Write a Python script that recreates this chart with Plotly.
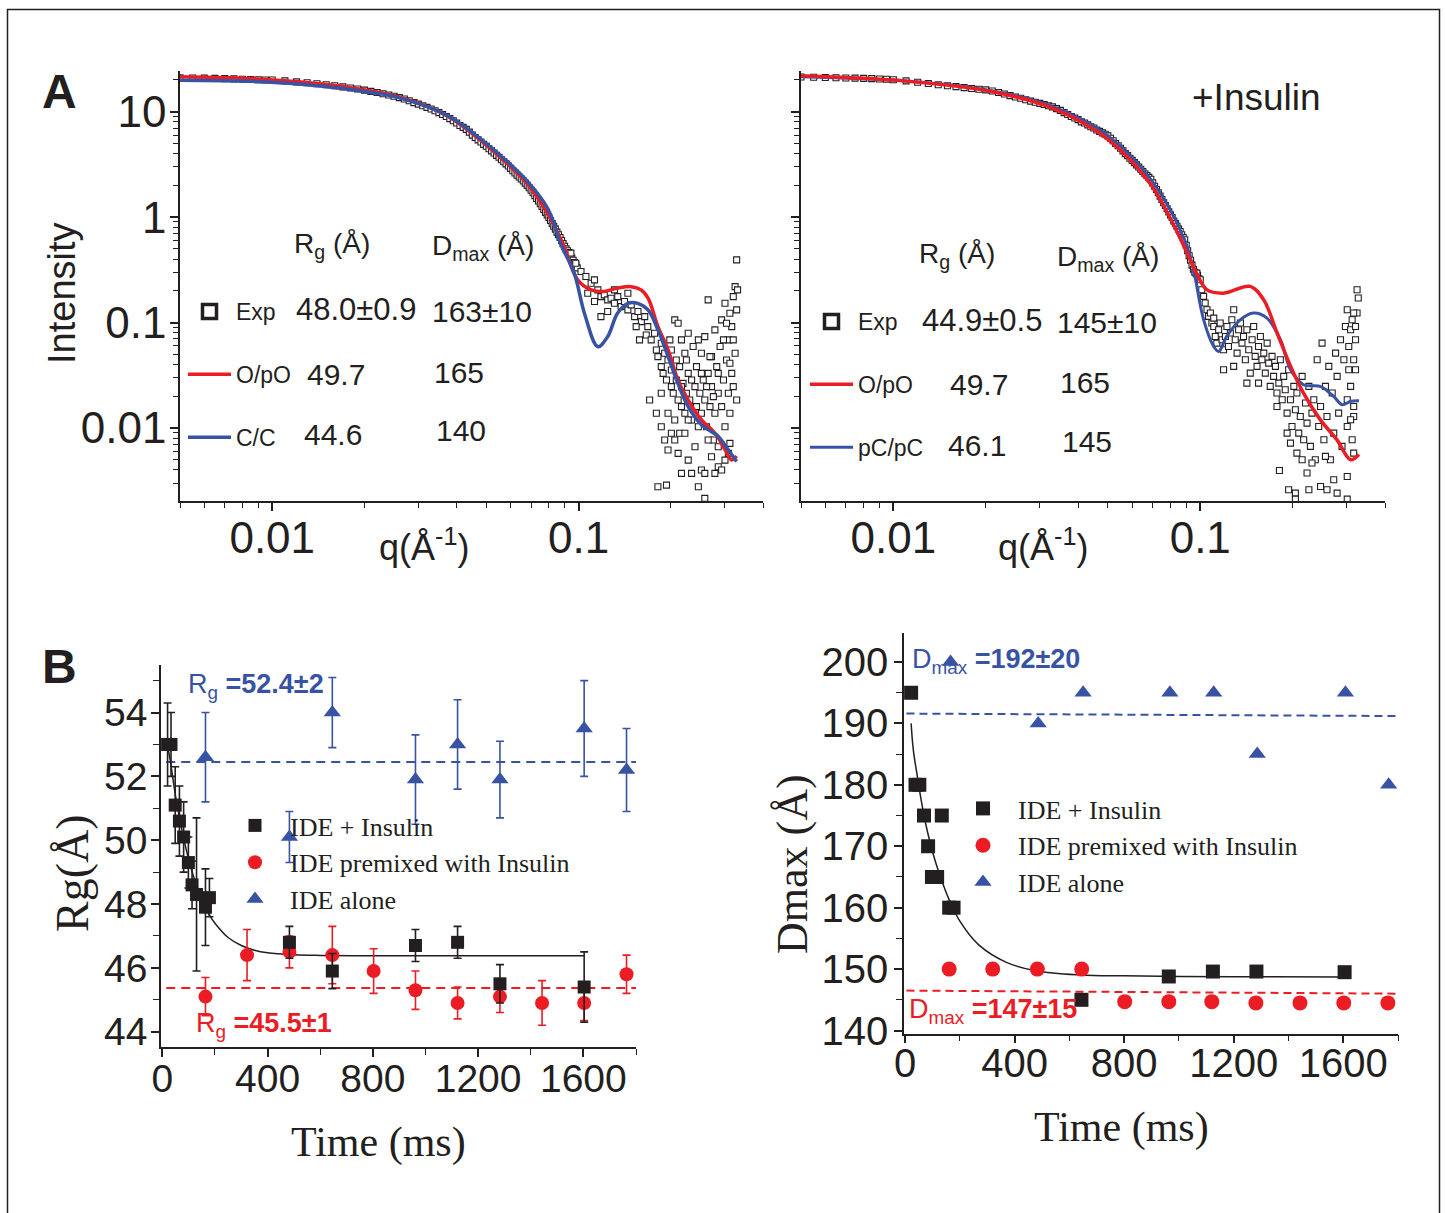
import numpy as np
import plotly.graph_objects as go

W, H = 1445, 1213
INK = "#231f20"
RED = "#ec1c24"
BLUE = "#3953a4"
SANS = "Liberation Sans, Arial, Helvetica, sans-serif"
SERIF = "Liberation Serif, Times New Roman, serif"


def fx(p):
    return p / W


def fy(p):
    return 1 - p / H


# ================= Panel A (left): IDE + insulin SAXS =================
qL_red = [0.005, 0.008, 0.0122, 0.018, 0.0258, 0.0375, 0.0546, 0.0684, 0.0794, 0.089, 0.0993,
          0.110, 0.121, 0.134, 0.1486, 0.160, 0.1686, 0.1816, 0.196, 0.211, 0.228, 0.252,
          0.279, 0.301, 0.316, 0.328]
IL_red = [21.5, 20.8, 19.2, 16.9, 13.9, 9.0, 3.85, 2.03, 1.06, 0.556, 0.254,
          0.204, 0.197, 0.212, 0.219, 0.204, 0.170, 0.0916, 0.055, 0.0285, 0.0184, 0.0119,
          0.0089, 0.0062, 0.00497, 0.00542]
qL_blue = [0.005, 0.008, 0.0122, 0.018, 0.0258, 0.0375, 0.0546, 0.0684, 0.0794, 0.0876, 0.0968,
           0.1045, 0.1156, 0.1245, 0.134, 0.145, 0.156, 0.1686, 0.1816, 0.196, 0.211, 0.228,
           0.252, 0.272, 0.286, 0.308, 0.328]
IL_blue = [19.9, 19.5, 18.3, 16.2, 13.6, 9.1, 4.0, 2.15, 1.2, 0.55, 0.294,
           0.1225, 0.059, 0.0736, 0.1225, 0.152, 0.152, 0.132, 0.0851, 0.0475, 0.0265, 0.0159,
           0.0107, 0.0092, 0.0083, 0.0062, 0.0048]

q_band = [0.0050, 0.0055, 0.0060, 0.0065, 0.0070, 0.0075, 0.0080, 0.0085, 0.0090, 0.0095,
          0.0100, 0.0110, 0.0120, 0.0130, 0.0140, 0.0150, 0.0160, 0.0170, 0.0180, 0.0190,
          0.0200, 0.0210, 0.0220, 0.0230, 0.0240, 0.0250, 0.0260, 0.0270, 0.0280, 0.0290,
          0.0300, 0.0310, 0.0320, 0.0330, 0.0340, 0.0350, 0.0360, 0.0370, 0.0380, 0.0390,
          0.0400, 0.0410, 0.0420, 0.0430, 0.0440, 0.0450, 0.0460, 0.0470, 0.0480, 0.0490,
          0.0500, 0.0510, 0.0520, 0.0530, 0.0540, 0.0550, 0.0560, 0.0570, 0.0580, 0.0590,
          0.0600, 0.0610, 0.0620, 0.0630, 0.0640, 0.0650, 0.0660, 0.0670, 0.0680, 0.0690,
          0.0700, 0.0710, 0.0720, 0.0730, 0.0740, 0.0750, 0.0760, 0.0770, 0.0780, 0.0790,
          0.0800, 0.0810, 0.0820, 0.0830, 0.0840, 0.0850, 0.0860, 0.0870, 0.0880, 0.0890,
          0.0900, 0.0910, 0.0920, 0.0930, 0.0940, 0.0950, 0.0960, 0.0970, 0.0980, 0.0990]
expL_I_band = [21.0, 20.9, 20.8, 20.7, 20.6, 20.5, 20.3, 20.2, 20.1, 20.0,
               20.0, 19.6, 19.2, 18.8, 18.4, 18.0, 17.6, 17.2, 16.8, 16.4,
               16.0, 15.6, 15.2, 14.8, 14.4, 14.0, 13.6, 13.2, 12.7, 12.2,
               11.8, 11.4, 11.0, 10.6, 10.2, 9.8, 9.4, 9.0, 8.6, 8.2,
               7.8, 7.4, 7.1, 6.8, 6.4, 6.0, 5.7, 5.4, 5.15, 4.9,
               4.7, 4.45, 4.25, 4.05, 3.85, 3.7, 3.5, 3.35, 3.2, 3.05,
               2.9, 2.75, 2.62, 2.5, 2.4, 2.3, 2.2, 2.1, 2.0, 1.9,
               1.8, 1.7, 1.6, 1.5, 1.42, 1.34, 1.26, 1.18, 1.11, 1.05,
               0.99, 0.93, 0.87, 0.82, 0.77, 0.72, 0.68, 0.64, 0.60, 0.56,
               0.53, 0.50, 0.48, 0.46, 0.44, 0.41, 0.39, 0.37, 0.35, 0.33]
# high-q noisy tail, read as log10 values off the log-log plot
expL_log10q_tail = [-1.025, -1.009, -0.992, -0.976, -0.959, -0.948, -0.937, -0.927, -0.916, -0.905,
                    -0.894, -0.883, -0.872, -0.861, -0.850, -0.839, -0.828, -0.817, -0.806, -0.795,
                    -0.784, -0.927, -0.905, -0.948, -0.970, -0.883, -0.839, -0.812, -0.779, -0.801,
                    -0.774, -0.763, -0.752, -0.746, -0.741, -0.730, -0.730, -0.724, -0.719, -0.713,
                    -0.708, -0.702, -0.697, -0.697, -0.691, -0.686, -0.681, -0.675, -0.675, -0.670,
                    -0.664, -0.659, -0.653, -0.653, -0.648, -0.642, -0.642, -0.637, -0.631, -0.626,
                    -0.620, -0.620, -0.615, -0.609, -0.609, -0.604, -0.599, -0.599, -0.593, -0.588,
                    -0.588, -0.582, -0.577, -0.577, -0.571, -0.566, -0.566, -0.560, -0.555, -0.555,
                    -0.549, -0.544, -0.544, -0.538, -0.533, -0.533, -0.527, -0.522, -0.522, -0.517,
                    -0.511, -0.511, -0.506, -0.506, -0.500, -0.500, -0.495, -0.495, -0.489, -0.489,
                    -0.484, -0.484, -0.484, -0.481,
                    -0.768, -0.746, -0.730, -0.719, -0.708, -0.697, -0.686, -0.675, -0.670, -0.664,
                    -0.653, -0.642, -0.631, -0.620, -0.609, -0.599, -0.588, -0.577, -0.566, -0.555,
                    -0.544, -0.533, -0.522, -0.511, -0.506, -0.741, -0.713, -0.588,
                    -0.697, -0.681, -0.664, -0.648, -0.631, -0.615, -0.599, -0.582, -0.571, -0.560,
                    -0.544, -0.527, -0.517, -0.506, -0.495, -0.730, -0.708, -0.686, -0.664, -0.642]
expL_log10I_tail = [-0.342, -0.437, -0.516, -0.564, -0.627, -0.595, -0.690, -0.754, -0.738, -0.785,
                    -0.769, -0.817, -0.754, -0.849, -0.801, -0.880, -0.833, -0.944, -0.896, -0.991,
                    -0.944, -0.944, -0.896, -0.801, -0.722, -0.690, -0.722, -1.039, -1.118, -1.165,
                    -1.039, -1.165, -1.102, -1.260, -1.323, -1.197, -1.418, -1.482, -1.292, -1.545,
                    -1.355, -1.165, -1.450, -1.608, -1.671, -0.975, -1.545, -1.735, -1.007, -1.418,
                    -1.798, -1.577, -1.292, -1.861, -1.671, -1.102, -1.482, -1.735, -1.925, -1.228,
                    -1.608, -1.798, -1.418, -1.165, -1.988, -1.671, -1.292, -1.861, -1.545, -1.134,
                    -1.735, -1.988, -1.482, -0.785, -1.798, -1.323, -1.608, -2.115, -1.070, -1.861,
                    -1.418, -1.671, -2.178, -1.228, -0.975, -1.798, -1.545, -0.817, -1.988, -1.355,
                    -1.165, -1.671, -0.912, -1.861, -1.039, -1.482, -0.754, -1.608, -0.659, -1.292,
                    -0.406, -0.880, -1.735, -0.690,
                    -1.735, -1.861, -1.988, -2.115, -2.209, -2.051, -2.115, -2.241, -2.051, -2.431,
                    -2.051, -2.305, -2.431, -2.178, -2.558, -2.399, -2.431, -2.115, -2.273, -2.431,
                    -2.368, -2.399, -2.305, -2.241, -2.146, -2.558, -2.542, -2.668,
                    -1.260, -1.355, -1.165, -1.355, -1.545, -1.798, -1.482, -1.608, -1.323, -1.703,
                    -1.482, -1.165, -1.007, -1.387, -1.165, -1.671, -1.861, -1.925, -1.608, -1.925]

# ================= Panel A (right): +Insulin =================
qR_red = [0.005, 0.011, 0.0207, 0.0333, 0.0502, 0.0689, 0.0832, 0.0927, 0.0975, 0.105, 0.119,
          0.1455, 0.161, 0.178, 0.197, 0.217, 0.246, 0.279, 0.309, 0.329]
IR_red = [21.9, 19.5, 15.6, 10.7, 5.43, 2.05, 0.769, 0.394, 0.289, 0.205, 0.19,
          0.22, 0.164, 0.0795, 0.0384, 0.0214, 0.012, 0.0077, 0.0050, 0.0056]
qR_blue = [0.005, 0.011, 0.0207, 0.0333, 0.0502, 0.0689, 0.0888, 0.095, 0.1026, 0.1106, 0.1148,
           0.122, 0.135, 0.149, 0.165, 0.1825, 0.197, 0.217, 0.246, 0.272, 0.290, 0.309, 0.329]
IR_blue = [21.5, 19.6, 15.9, 11.1, 5.87, 2.29, 0.614, 0.317, 0.106, 0.0594, 0.0532,
           0.0738, 0.106, 0.123, 0.110, 0.0687, 0.0356, 0.0257, 0.0248, 0.0199, 0.0166, 0.0179, 0.0181]
expR_I_band = [21.3, 21.2, 21.1, 21.0, 20.9, 20.8, 20.7, 20.6, 20.4, 20.3,
               20.1, 19.6, 19.0, 18.5, 18.0, 17.6, 17.3, 16.9, 16.6, 16.3,
               16.1, 15.7, 15.2, 14.7, 14.2, 13.8, 13.4, 13.0, 12.6, 12.3,
               12.0, 11.7, 11.4, 11.1, 10.7, 10.3, 9.8, 9.4, 9.0, 8.7,
               8.4, 8.0, 7.8, 7.5, 7.2, 7.0, 6.7, 6.5, 6.3, 6.1,
               5.9, 5.6, 5.3, 5.0, 4.75, 4.5, 4.25, 4.0, 3.83, 3.62,
               3.45, 3.29, 3.13, 2.99, 2.84, 2.71, 2.58, 2.48, 2.38, 2.29,
               2.11, 1.96, 1.83, 1.70, 1.58, 1.47, 1.37, 1.29, 1.20, 1.12,
               1.05, 0.99, 0.92, 0.87, 0.82, 0.77, 0.73, 0.68, 0.64, 0.61,
               0.54, 0.48, 0.43, 0.39, 0.35, 0.32, 0.30, 0.29, 0.28, 0.26]
expR_log10q_tail = [-1.011, -1.000, -0.995, -0.989, -0.984, -0.978, -0.973, -0.967, -0.962, -0.956,
                    -0.951, -0.946, -0.956, -0.940, -0.935, -0.929, -0.924, -0.918, -0.913, -0.908,
                    -0.902, -0.897, -0.891, -0.886, -0.880, -0.875, -0.869, -0.864, -0.859, -0.853,
                    -0.848, -0.842, -0.837, -0.831, -0.826, -0.821, -0.815, -0.810, -0.804, -0.799,
                    -0.793, -0.788, -0.782, -0.777, -0.772, -0.766, -0.761, -0.755, -0.750, -0.744,
                    -0.739, -0.733, -0.728, -0.723, -0.717, -0.712, -0.706, -0.701, -0.695, -0.690,
                    -0.685, -0.679, -0.674, -0.668, -0.663, -0.657, -0.652, -0.646, -0.641, -0.636,
                    -0.630, -0.625, -0.619, -0.614, -0.608, -0.603, -0.597, -0.592, -0.587, -0.581,
                    -0.576, -0.570, -0.565, -0.559, -0.554, -0.549, -0.543, -0.538, -0.532, -0.527,
                    -0.521, -0.516, -0.510, -0.505, -0.500, -0.494, -0.489, -0.489, -0.485, -0.500,
                    -0.505, -0.924, -0.891, -0.848, -0.810, -0.750,
                    -0.717, -0.706, -0.685, -0.668, -0.652, -0.636, -0.608, -0.592, -0.587, -0.565,
                    -0.554, -0.521, -0.742, -0.712, -0.690, -0.646, -0.690, -0.521,
                    -0.521, -0.510, -0.500, -0.494, -0.516, -0.494, -0.500, -0.510, -0.521, -0.500]
expR_log10I_tail = [-0.531, -0.594, -0.689, -0.752, -0.815, -0.879, -0.942, -0.910, -1.005, -1.037,
                    -1.132, -1.195, -0.958, -1.068, -1.005, -1.163, -1.258, -1.132, -1.037, -1.227,
                    -1.100, -0.974, -0.879, -1.163, -1.290, -1.068, -1.005, -1.195, -1.132, -1.353,
                    -1.068, -1.258, -1.480, -1.163, -1.037, -1.321, -1.416, -1.227, -1.132, -1.353,
                    -1.290, -1.480, -1.195, -1.385, -1.606, -1.321, -1.511, -1.416, -1.669, -1.575,
                    -1.353, -1.733, -1.511, -1.638, -1.859, -1.448, -1.733, -1.986, -1.606, -1.828,
                    -1.669, -2.049, -1.891, -1.511, -2.112, -1.764, -1.954, -1.606, -2.175, -1.859,
                    -1.733, -2.302, -1.353, -1.986, -1.796, -1.195, -2.112, -1.606, -1.891, -1.416,
                    -2.302, -1.669, -2.049, -1.290, -1.511, -1.859, -1.163, -2.175, -1.353, -1.037,
                    -1.733, -1.227, -1.606, -0.974, -1.891, -1.163, -0.910, -0.689, -0.768, -1.353,
                    -2.112, -1.448, -1.416, -1.575, -1.575, -1.796,
                    -2.049, -2.144, -2.239, -2.302, -2.428, -2.333, -2.555, -2.270, -2.586, -2.491,
                    -2.618, -2.460, -2.403, -2.586, -2.618, -2.586, -2.675, -2.675,
                    -0.879, -1.068, -0.910, -1.037, -1.448, -1.448, -1.796, -1.922, -1.986, -2.239]

# ================= Panel B (left): Rg vs time =================
t_ins = [20, 33, 49, 65, 81, 99, 113, 130, 164, 179, 483, 646, 962, 1122, 1283, 1603]
rg_ins = [53.0, 53.0, 51.1, 50.6, 50.1, 49.3, 48.6, 48.3, 47.9, 48.2, 46.8, 45.9, 46.7, 46.8, 45.5, 45.4]
rg_ins_err = [1.3, 1.0, 1.2, 1.1, 1.1, 0.8, 0.75, 2.4, 1.2, 0.6, 0.5, 0.55, 0.5, 0.5, 0.6, 1.1]
t_pre = [164, 322, 483, 646, 803, 962, 1122, 1283, 1443, 1603, 1764]
rg_pre = [45.1, 46.4, 46.5, 46.4, 45.9, 45.3, 44.9, 45.1, 44.9, 44.9, 45.8]
rg_pre_err = [0.6, 0.8, 0.5, 0.9, 0.7, 0.6, 0.5, 0.5, 0.7, 0.55, 0.6]
t_alone = [164, 483, 646, 962, 1122, 1283, 1603, 1764]
rg_alone = [52.6, 50.1, 54.0, 51.9, 53.0, 51.9, 53.5, 52.2]
rg_alone_err = [1.4, 0.8, 1.1, 1.4, 1.4, 1.2, 1.5, 1.3]
fit_t_rg = [15, 30, 50, 75, 100, 125, 150, 175, 200, 250, 300, 350, 400, 500, 600, 800, 1000, 1200, 1400, 1603]
fit_rg = [53.2, 52.5, 51.4, 50.3, 49.4, 48.7, 48.1, 47.7, 47.4, 46.95, 46.7, 46.55, 46.47, 46.41, 46.39,
          46.38, 46.38, 46.38, 46.38, 46.38]
mean_t_rg = [15, 1800]
rg_alone_mean = [52.45, 52.45]
rg_pre_mean = [45.37, 45.37]

# ================= Panel B (right): Dmax vs time =================
t_ins_d = [22, 38, 52, 69, 84, 98, 117, 134, 161, 177, 644, 963, 1124, 1283, 1605]
dmax_ins = [195, 180, 180, 175, 170, 165, 165, 175, 160, 160, 145, 148.8, 149.6, 149.6, 149.5]
t_pre_d = [161, 320, 483, 645, 802, 963, 1120, 1281, 1442, 1602, 1763]
dmax_pre = [150, 150, 150, 150, 144.7, 144.7, 144.7, 144.5, 144.5, 144.5, 144.5]
t_alone_d = [166, 486, 650, 967, 1127, 1286, 1608, 1766]
dmax_alone = [200, 190, 195, 195, 195, 185, 195, 180]
fit_t_d = [22, 30, 45, 60, 77, 95, 110, 130, 160, 200, 270, 370, 480, 640, 800, 1000, 1300, 1605]
fit_d = [190.0, 185.7, 181.3, 177.2, 173.3, 170.0, 167.6, 164.9, 161.4, 157.8, 153.9, 151.1, 149.7,
         149.05, 148.9, 148.8, 148.75, 148.7]
mean_t_d = [5, 1800]
dmax_alone_mean = [191.6, 191.2]
dmax_pre_mean = [146.5, 146.0]

# ---------------------------------------------------------------------
fig = go.Figure()


def exp_trace(q, I, xa, ya):
    return go.Scatter(x=q, y=I, mode="markers", xaxis=xa, yaxis=ya, showlegend=False,
                      marker=dict(symbol="square", size=6, color="white",
                                  line=dict(color=INK, width=1.1)),
                      hoverinfo="skip")


def exp_legend(xa, ya, leg, grp):
    return go.Scatter(x=[None], y=[None], mode="markers", xaxis=xa, yaxis=ya, name="Exp",
                      legend=leg, legendgroup=grp, legendrank=1,
                      marker=dict(symbol="square", size=14, color="white",
                                  line=dict(color=INK, width=3.5)))


expL_q = list(q_band) + list(10 ** np.array(expL_log10q_tail))
expL_I = list(expL_I_band) + list(10 ** np.array(expL_log10I_tail))
expR_q = list(q_band) + list(10 ** np.array(expR_log10q_tail))
expR_I = list(expR_I_band) + list(10 ** np.array(expR_log10I_tail))

# A left
fig.add_trace(exp_trace(expL_q, expL_I, "x", "y"))
fig.add_trace(exp_legend("x", "y", "legend", "a1"))
fig.add_trace(go.Scatter(x=qL_red, y=IL_red, mode="lines", line=dict(color=RED, width=3.5, shape="spline"),
                         xaxis="x", yaxis="y", name="O/pO", legend="legend", legendgroup="a2", legendrank=2))
fig.add_trace(go.Scatter(x=qL_blue, y=IL_blue, mode="lines", line=dict(color=BLUE, width=3.5, shape="spline"),
                         xaxis="x", yaxis="y", name="C/C", legend="legend", legendgroup="a3", legendrank=3))
# A right
fig.add_trace(exp_trace(expR_q, expR_I, "x2", "y2"))
fig.add_trace(exp_legend("x2", "y2", "legend2", "b1"))
fig.add_trace(go.Scatter(x=qR_blue, y=IR_blue, mode="lines", line=dict(color=BLUE, width=3, shape="spline"),
                         xaxis="x2", yaxis="y2", name="pC/pC", legend="legend2", legendgroup="b3", legendrank=3))
fig.add_trace(go.Scatter(x=qR_red, y=IR_red, mode="lines", line=dict(color=RED, width=3.5, shape="spline"),
                         xaxis="x2", yaxis="y2", name="O/pO", legend="legend2", legendgroup="b2", legendrank=2))

# B left
fig.add_trace(go.Scatter(x=mean_t_rg, y=rg_alone_mean, mode="lines", xaxis="x3", yaxis="y3", showlegend=False,
                         line=dict(color=BLUE, width=2, dash="9px,6px")))
fig.add_trace(go.Scatter(x=mean_t_rg, y=rg_pre_mean, mode="lines", xaxis="x3", yaxis="y3", showlegend=False,
                         line=dict(color=RED, width=2, dash="9px,6px")))
fig.add_trace(go.Scatter(x=fit_t_rg, y=fit_rg, mode="lines", xaxis="x3", yaxis="y3", showlegend=False,
                         line=dict(color=INK, width=1.5, shape="spline")))
fig.add_trace(go.Scatter(x=t_alone, y=rg_alone, mode="markers", xaxis="x3", yaxis="y3", name="IDE alone",
                         legend="legend3", legendrank=3,
                         marker=dict(symbol="triangle-up", size=15, color=BLUE),
                         error_y=dict(type="data", array=rg_alone_err, color=BLUE, thickness=1.6, width=4)))
fig.add_trace(go.Scatter(x=t_pre, y=rg_pre, mode="markers", xaxis="x3", yaxis="y3",
                         name="IDE premixed with Insulin", legend="legend3", legendrank=2,
                         marker=dict(symbol="circle", size=14, color=RED),
                         error_y=dict(type="data", array=rg_pre_err, color=RED, thickness=1.6, width=4)))
fig.add_trace(go.Scatter(x=t_ins, y=rg_ins, mode="markers", xaxis="x3", yaxis="y3", name="IDE + Insulin",
                         legend="legend3", legendrank=1,
                         marker=dict(symbol="square", size=13, color=INK),
                         error_y=dict(type="data", array=rg_ins_err, color=INK, thickness=1.6, width=4)))

# B right
fig.add_trace(go.Scatter(x=mean_t_d, y=dmax_alone_mean, mode="lines", xaxis="x4", yaxis="y4", showlegend=False,
                         line=dict(color=BLUE, width=2, dash="8px,5px")))
fig.add_trace(go.Scatter(x=mean_t_d, y=dmax_pre_mean, mode="lines", xaxis="x4", yaxis="y4", showlegend=False,
                         line=dict(color=RED, width=2, dash="8px,5px")))
fig.add_trace(go.Scatter(x=fit_t_d, y=fit_d, mode="lines", xaxis="x4", yaxis="y4", showlegend=False,
                         line=dict(color=INK, width=1.5, shape="spline")))
fig.add_trace(go.Scatter(x=t_alone_d, y=dmax_alone, mode="markers", xaxis="x4", yaxis="y4", name="IDE alone",
                         legend="legend4", legendrank=3,
                         marker=dict(symbol="triangle-up", size=15, color=BLUE)))
fig.add_trace(go.Scatter(x=t_pre_d, y=dmax_pre, mode="markers", xaxis="x4", yaxis="y4",
                         name="IDE premixed with Insulin", legend="legend4", legendrank=2,
                         marker=dict(symbol="circle", size=15, color=RED)))
fig.add_trace(go.Scatter(x=t_ins_d, y=dmax_ins, mode="markers", xaxis="x4", yaxis="y4", name="IDE + Insulin",
                         legend="legend4", legendrank=1,
                         marker=dict(symbol="square", size=14, color=INK)))


def base_axis(size, standoff):
    return dict(showline=True, linecolor=INK, linewidth=1.5, mirror=False, automargin=False,
                ticks="outside", ticklen=8, tickwidth=1.5, tickcolor=INK,
                showgrid=False, zeroline=False, ticklabelstandoff=standoff,
                tickfont=dict(family=SANS, size=size, color=INK))


def minor(vals, ln=5):
    return dict(tickvals=vals, ticks="outside", ticklen=ln, tickwidth=1.3, tickcolor=INK, showgrid=False)


q_minor = [0.005, 0.006, 0.007, 0.008, 0.009, 0.02, 0.03, 0.04, 0.05, 0.06, 0.07, 0.08, 0.09,
           0.2, 0.3, 0.4]
I_minor = [0.003, 0.004, 0.005, 0.006, 0.007, 0.008, 0.009, 0.02, 0.03, 0.04, 0.05, 0.06, 0.07, 0.08, 0.09,
           0.2, 0.3, 0.4, 0.5, 0.6, 0.7, 0.8, 0.9, 2, 3, 4, 5, 6, 7, 8, 9, 20]
q_range = [np.log10(0.005), np.log10(0.4)]
I_range = [-2.693, 1.386]

xa1 = base_axis(44, -11)
xa1.update(type="log", range=q_range, domain=[fx(180), fx(763)], anchor="y",
           tickvals=[0.01, 0.1], ticktext=["0.01", "0.1"], minor=minor(q_minor))
ya1 = base_axis(44, -5)
ya1.update(type="log", range=I_range, domain=[fy(501), fy(71)], anchor="x",
           tickvals=[0.01, 0.1, 1, 10], ticktext=["0.01", "0.1", "1", "10"], minor=minor(I_minor))
xa2 = base_axis(44, -11)
xa2.update(type="log", range=q_range, domain=[fx(801), fx(1385)], anchor="y2",
           tickvals=[0.01, 0.1], ticktext=["0.01", "0.1"], minor=minor(q_minor))
ya2 = base_axis(44, 0)
ya2.update(type="log", range=I_range, domain=[fy(501), fy(71)], anchor="x2",
           tickvals=[0.01, 0.1, 1, 10], showticklabels=False, minor=minor(I_minor))

xa3 = base_axis(39, -12)
xa3.update(range=[-5, 1800], domain=[fx(161), fx(636)], anchor="y3",
           tickvals=[0, 400, 800, 1200, 1600], minor=minor([200, 600, 1000, 1400, 1800], 6))
ya3 = base_axis(39, -4)
ya3.update(range=[43.52, 55.49], domain=[fy(1047), fy(665)], anchor="x3",
           tickvals=[44, 46, 48, 50, 52, 54], minor=minor([45, 47, 49, 51, 53, 55], 6))
xa4 = base_axis(40, -14)
xa4.update(range=[-4, 1800], domain=[fx(904), fx(1398)], anchor="y4",
           tickvals=[0, 400, 800, 1200, 1600], minor=minor([200, 600, 1000, 1400, 1800], 6))
ya4 = base_axis(40, -2)
ya4.update(range=[139.5, 204.8], domain=[fy(1033.6), fy(632.5)], anchor="x4",
           tickvals=[140, 150, 160, 170, 180, 190, 200], minor=minor([145, 155, 165, 175, 185, 195], 6))


def ann(text, x, y, size, family=SANS, color=INK, xanchor="left", yanchor="middle", angle=0):
    return dict(text=text, x=fx(x), y=fy(y), xref="paper", yref="paper", showarrow=False,
                xanchor=xanchor, yanchor=yanchor, textangle=angle,
                font=dict(family=family, size=size, color=color))


annotations = [
    ann("<b>A</b>", 59, 91, 48, xanchor="center"),
    ann("<b>B</b>", 59, 666, 48, xanchor="center"),
    ann("Intensity", 62, 293, 38, xanchor="center", angle=-90),
    ann("q(Å<sup>-1</sup>)", 424, 545, 36, xanchor="center"),
    ann("q(Å<sup>-1</sup>)", 1043, 545, 36, xanchor="center"),
    ann("+Insulin", 1256, 97, 37, xanchor="center"),
    # table, left
    ann("R<sub>g</sub> (Å)", 292, 245, 28),
    ann("D<sub>max</sub> (Å)", 430, 247, 28),
    ann("48.0±0.9", 294, 309, 31),
    ann("163±10", 430, 311, 30),
    ann("49.7", 305, 374, 30),
    ann("165", 432, 372, 30),
    ann("44.6", 302, 434, 30),
    ann("140", 434, 430, 30),
    # table, right
    ann("R<sub>g</sub> (Å)", 917, 255, 28),
    ann("D<sub>max</sub> (Å)", 1055, 258, 28),
    ann("44.9±0.5", 920, 320, 31),
    ann("145±10", 1055, 322, 30),
    ann("49.7", 948, 385, 30),
    ann("165", 1058, 383, 30),
    ann("46.1", 946, 445, 30),
    ann("145", 1060, 441, 30),
    # panel B text
    ann("Rg(Å)", 72, 873, 46, SERIF, xanchor="center", angle=-90),
    ann("Dmax (Å)", 792, 864, 44, SERIF, xanchor="center", angle=-90),
    ann("Time (ms)", 378, 1142, 42, SERIF, xanchor="center"),
    ann("Time (ms)", 1121, 1127, 42, SERIF, xanchor="center"),
    ann("R<sub>g</sub> <b>=52.4±2</b>", 186, 686, 27, SANS, BLUE),
    ann("R<sub>g</sub> <b>=45.5±1</b>", 194, 1025, 27, SANS, RED),
    ann("D<sub>max</sub> <b>=192±20</b>", 910, 661, 27, SANS, BLUE),
    ann("D<sub>max</sub> <b>=147±15</b>", 907, 1011, 27, SANS, RED),
]

legend_common = dict(xanchor="left", yanchor="top", bgcolor="rgba(0,0,0,0)", borderwidth=0,
                     traceorder="grouped")

fig.update_layout(
    template="none",
    width=W, height=H, margin=dict(l=0, r=0, t=0, b=0, pad=0, autoexpand=False),
    font=dict(family=SANS, color=INK),
    paper_bgcolor="white", plot_bgcolor="rgba(0,0,0,0)",
    xaxis=xa1, yaxis=ya1, xaxis2=xa2, yaxis2=ya2, xaxis3=xa3, yaxis3=ya3, xaxis4=xa4, yaxis4=ya4,
    legend=dict(x=fx(183), y=fy(290), font=dict(family=SANS, size=23, color=INK),
                tracegroupgap=30, itemwidth=43, **legend_common),
    legend2=dict(x=fx(805), y=fy(300), font=dict(family=SANS, size=23, color=INK),
                 tracegroupgap=30, itemwidth=43, **legend_common),
    legend3=dict(x=fx(220), y=fy(802), font=dict(family=SERIF, size=26, color=INK),
                 tracegroupgap=0, itemwidth=60, **legend_common),
    legend4=dict(x=fx(948), y=fy(785), font=dict(family=SERIF, size=26, color=INK),
                 tracegroupgap=0, itemwidth=60, **legend_common),
    annotations=annotations,
    shapes=[dict(type="rect", xref="paper", yref="paper", x0=fx(7.5), x1=fx(1439.5),
                 y0=-0.02, y1=fy(9.5), line=dict(color=INK, width=1.5))],
)

fig.write_html("out.html", config={"displayModeBar": False},
               post_script="document.body.style.margin='0px';"
                           "document.documentElement.style.overflow='hidden';")
